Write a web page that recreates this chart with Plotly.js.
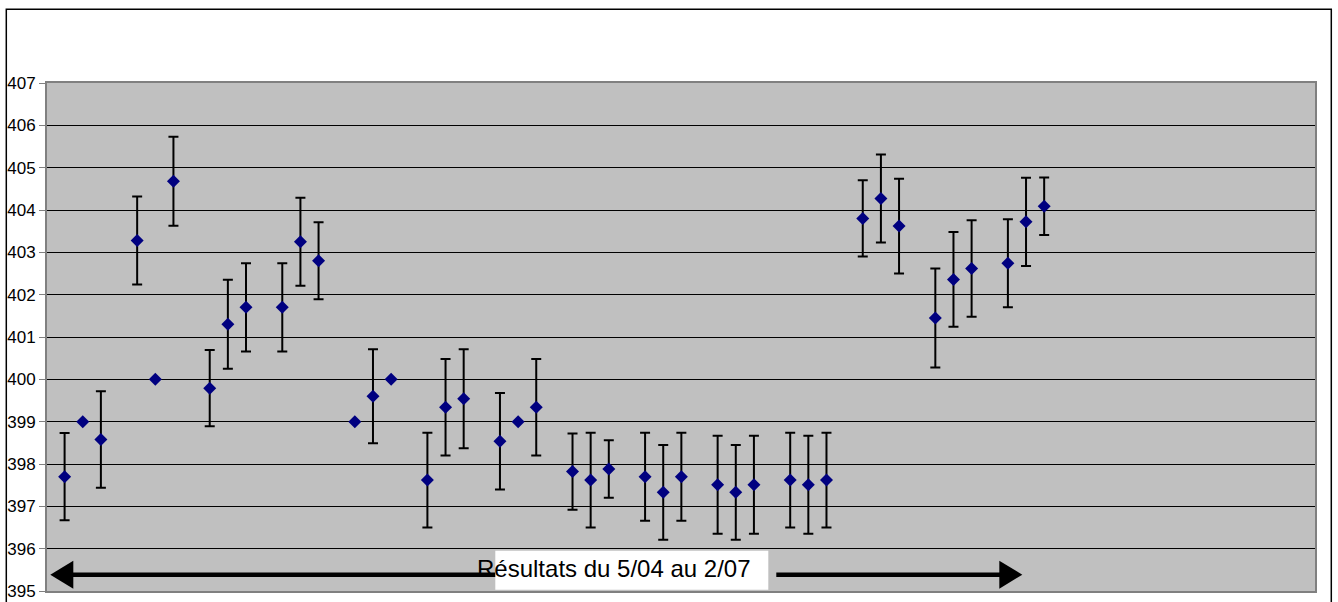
<!DOCTYPE html>
<html>
<head>
<meta charset="utf-8">
<script src="https://cdn.plot.ly/plotly-3.0.1.min.js"></script>
<style>
  html, body { margin: 0; padding: 0; background: #ffffff; }
  #chart { width: 1338px; height: 602px; }
</style>
</head>
<body>
<div id="chart"></div>
<script>
// Measurement slots (groups of three, one empty slot between groups)
const positions = [0, 1, 2, 4, 5, 6, 8, 9, 10, 12, 13, 14, 16, 17, 18, 20, 21, 22,
                   24, 25, 26, 28, 29, 30, 32, 33, 34, 36, 37, 38, 40, 41, 42,
                   44, 45, 46, 48, 49, 50, 52, 53, 54];
// Measured values
const values = [397.70, 399.00, 398.58, 403.28, 400.00, 404.68, 399.79, 401.30, 401.70,
                401.70, 403.25, 402.80, 399.00, 399.60, 400.00, 397.62, 399.34, 399.54,
                398.54, 399.00, 399.34, 397.82, 397.62, 397.88, 397.70, 397.33, 397.70,
                397.51, 397.33, 397.51, 397.62, 397.51, 397.62, 403.80, 404.27, 403.62,
                401.45, 402.36, 402.62, 402.74, 403.72, 404.09];
// Uncertainty (± value); NaN = no error bar shown
const uncertainty = [1.03, NaN, 1.14, 1.04, NaN, 1.05, 0.90, 1.05, 1.04,
                     1.04, 1.04, 0.91, NaN, 1.11, NaN, 1.12, 1.14, 1.17,
                     1.14, NaN, 1.14, 0.90, 1.12, 0.68, 1.04, 1.12, 1.04,
                     1.16, 1.12, 1.16, 1.12, 1.16, 1.12, 0.90, 1.04, 1.12,
                     1.17, 1.12, 1.14, 1.04, 1.04, 0.68];
const yTicks = [395, 396, 397, 398, 399, 400, 401, 402, 403, 404, 405, 406, 407];
const caption = "Résultats du 5/04 au 2/07";

// Plot-area geometry in pixels
const W = 1338, H = 602;
const L = 46.7, R = 1314.7, T = 83.3, B = 591.3;
const px = x => (x - L) / (R - L);        // pixel x -> paper x
const py = y => (B - y) / (B - T);        // pixel y -> paper y

const trace = {
  type: 'scatter',
  mode: 'markers',
  x: positions,
  y: values,
  marker: { symbol: 'diamond', size: 10, color: '#000080', line: { width: 0 } },
  error_y: {
    type: 'data', array: uncertainty, symmetric: true, visible: true,
    color: '#000000', thickness: 2, width: 5
  },
  hoverinfo: 'x+y',
  showlegend: false
};

const arrowY = 575;
const shapes = [
  // outer frame
  { type: 'rect', xref: 'paper', yref: 'paper', x0: px(6), x1: px(1331), y0: py(9.5), y1: py(612),
    line: { color: '#000000', width: 1.5 }, fillcolor: 'rgba(0,0,0,0)', layer: 'above' },
  // left arrow
  { type: 'line', xref: 'paper', yref: 'paper', x0: px(70), x1: px(500), y0: py(arrowY), y1: py(arrowY),
    line: { color: '#000000', width: 4.5 }, layer: 'above' },
  { type: 'path', xref: 'paper', yref: 'paper',
    path: `M ${px(50)} ${py(arrowY)} L ${px(73)} ${py(561)} L ${px(73)} ${py(589)} Z`,
    fillcolor: '#000000', line: { color: '#000000', width: 0 }, layer: 'above' },
  // right arrow
  { type: 'line', xref: 'paper', yref: 'paper', x0: px(776), x1: px(1003), y0: py(arrowY), y1: py(arrowY),
    line: { color: '#000000', width: 4.5 }, layer: 'above' },
  { type: 'path', xref: 'paper', yref: 'paper',
    path: `M ${px(1022)} ${py(arrowY)} L ${px(999)} ${py(561)} L ${px(999)} ${py(589)} Z`,
    fillcolor: '#000000', line: { color: '#000000', width: 0 }, layer: 'above' },
  // white text box
  { type: 'rect', xref: 'paper', yref: 'paper', x0: px(495), x1: px(768), y0: py(551), y1: py(590),
    fillcolor: '#ffffff', line: { width: 0 }, layer: 'above' }
];

const layout = {
  width: W, height: H,
  margin: { l: L, r: W - R, t: T, b: H - B, pad: 0 },
  paper_bgcolor: '#ffffff',
  plot_bgcolor: '#c0c0c0',
  font: { family: 'Liberation Sans, Arial, sans-serif', color: '#000000', size: 17 },
  xaxis: {
    range: [-0.97, 68.93], showgrid: false, zeroline: false, showticklabels: false,
    ticks: '', showline: true, mirror: true, linecolor: '#808080', linewidth: 2
  },
  yaxis: {
    range: [395, 407], tickmode: 'array', tickvals: yTicks, ticktext: yTicks.map(String),
    showgrid: true, gridcolor: '#000000', gridwidth: 1, zeroline: false,
    ticks: 'outside', ticklen: 6, tickcolor: '#808080', tickwidth: 1,
    showline: true, mirror: true, linecolor: '#808080', linewidth: 2,
    tickfont: { family: 'Liberation Sans, Arial, sans-serif', size: 17, color: '#000000' }
  },
  shapes: shapes,
  annotations: [{
    xref: 'paper', yref: 'paper', x: px(475), y: py(569),
    xanchor: 'left', yanchor: 'middle', showarrow: false,
    text: caption,
    font: { family: 'Liberation Sans, Arial, sans-serif', size: 24, color: '#000000' }
  }]
};

Plotly.newPlot('chart', [trace], layout, { displayModeBar: false, staticPlot: true });
</script>
</body>
</html>
